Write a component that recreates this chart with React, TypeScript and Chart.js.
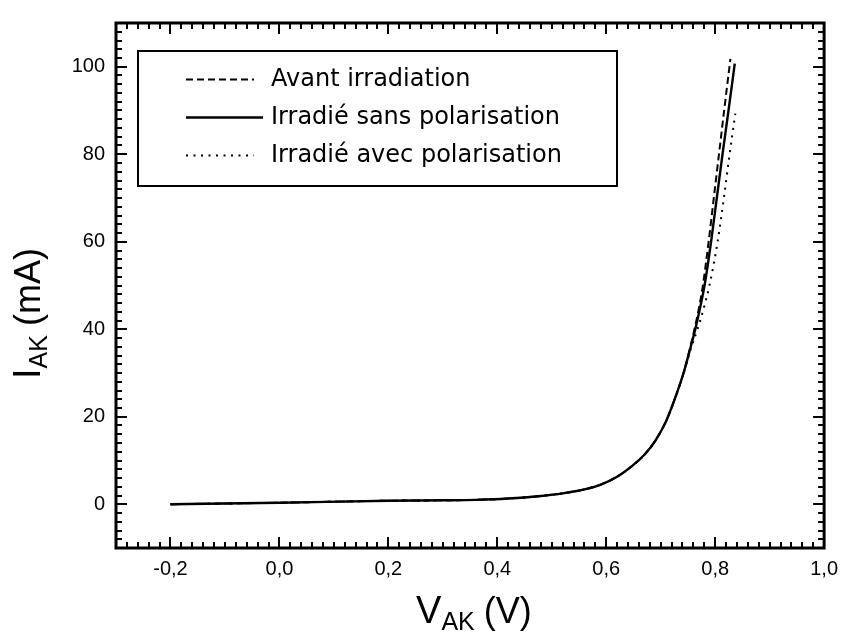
import React, { useEffect, useRef } from "react";
import { Chart, registerables } from "chart.js";

Chart.register(...registerables);

// ---- Data ----
const X_TICKS = [-0.2, 0.0, 0.2, 0.4, 0.6, 0.8, 1.0];
const Y_TICKS = [0, 20, 40, 60, 80, 100];

// common low-current part (all three curves overlap)
const V_COMMON = [-0.2, 0.0, 0.2, 0.3, 0.36, 0.42, 0.48, 0.52, 0.56, 0.59, 0.62, 0.645, 0.67, 0.69, 0.71, 0.73];
const I_COMMON = [0, 0.35, 0.8, 0.9, 1.0, 1.3, 1.9, 2.5, 3.4, 4.5, 6.3, 8.5, 11.3, 14.5, 19, 25.5];

// high-current tails
const V_AVANT = [0.742, 0.7525, 0.762, 0.7705, 0.7775, 0.788, 0.7975, 0.807, 0.8165, 0.828];
const I_AVANT = [30, 35, 40, 45, 50, 60, 70, 80, 90, 101.8];

const V_SANS = [0.742, 0.753, 0.7635, 0.7725, 0.7805, 0.7925, 0.803, 0.8135, 0.8245, 0.836];
const I_SANS = [30, 35, 40, 45, 50, 60, 70, 80, 90, 100.7];

const V_AVEC = [0.742, 0.754, 0.7675, 0.7795, 0.7895, 0.8045, 0.816, 0.8265, 0.837];
const I_AVEC = [30, 35, 40, 45, 50, 60, 70, 80, 89.3];

const LABELS = ["Avant irradiation", "Irradié sans polarisation", "Irradié avec polarisation"];

const FONT = "'Liberation Sans', Arial, Helvetica, sans-serif";
const LEGEND_FONT = "'DejaVu Sans', 'Liberation Sans', sans-serif";

function pts(v: number[], i: number[]) {
  return v.map((x, k) => ({ x, y: i[k] }));
}

const fmt = (v: number) => v.toFixed(1).replace(".", ",");

const decoPlugin = {
  id: "deco",
  beforeDraw(chart: any) {
    const ctx = chart.ctx;
    ctx.save();
    ctx.fillStyle = "#fff";
    ctx.fillRect(0, 0, chart.width, chart.height);
    ctx.restore();
  },
  afterDraw(chart: any) {
    const ctx: CanvasRenderingContext2D = chart.ctx;
    const a = chart.chartArea;
    const xs = chart.scales.x;
    const ys = chart.scales.y;
    ctx.save();
    ctx.strokeStyle = "#000";
    ctx.fillStyle = "#000";
    ctx.setLineDash([]);

    const seg = (x1: number, y1: number, x2: number, y2: number) => {
      ctx.beginPath();
      ctx.moveTo(x1, y1);
      ctx.lineTo(x2, y2);
      ctx.stroke();
    };

    // minor + major ticks, inward, on all four sides
    ctx.lineWidth = 2;
    for (let k = 0; k <= 65; k++) {
      const v = -0.3 + k * 0.02;
      const px = Math.round(xs.getPixelForValue(v));
      const r = (v + 0.2) / 0.2;
      const major = Math.abs(r - Math.round(r)) < 1e-6;
      const len = major ? 11 : 6;
      seg(px, a.bottom, px, a.bottom - len);
      seg(px, a.top, px, a.top + len);
    }
    for (let k = 0; k <= 60; k++) {
      const v = -10 + k * 2;
      const py = Math.round(ys.getPixelForValue(v));
      const major = v % 20 === 0;
      const len = major ? 11 : 6;
      seg(a.left, py, a.left + len, py);
      seg(a.right, py, a.right - len, py);
    }

    // frame
    ctx.lineWidth = 3;
    ctx.strokeRect(a.left, a.top, a.right - a.left, a.bottom - a.top);

    // legend box
    const lx = a.left + 22, ly = a.top + 28, lw = 479, lh = 135;
    ctx.lineWidth = 2;
    ctx.strokeRect(lx, ly, lw, lh);
    const rows = [79, 117, 155];
    const ds = chart.data.datasets;
    ctx.font = `24px ${LEGEND_FONT}`;
    ctx.textBaseline = "middle";
    ctx.textAlign = "left";
    for (let k = 0; k < 3; k++) {
      const d = ds[k];
      const y = rows[k] + 0.5;
      ctx.lineWidth = d.borderWidth;
      ctx.setLineDash(d.borderDash || []);
      seg(186, y, k === 1 ? 263 : 254, y);
      ctx.setLineDash([]);
      ctx.fillText(d.label, 271, rows[k] + 1);
    }

    // X title: V_AK (V)
    const cx = (a.left + a.right) / 2;
    ctx.textBaseline = "alphabetic";
    ctx.font = `38px ${FONT}`;
    let x = cx - 54;
    ctx.fillText("V", x, 623);
    x += ctx.measureText("V").width;
    ctx.font = `25px ${FONT}`;
    ctx.fillText("AK", x, 630);
    x += ctx.measureText("AK").width + 9;
    ctx.font = `36px ${FONT}`;
    ctx.fillText("(V)", x, 623);

    // Y title: I_AK (mA), rotated
    ctx.translate(40, 379);
    ctx.rotate(-Math.PI / 2);
    ctx.font = `38px ${FONT}`;
    let t = 0;
    ctx.fillText("I", t, 0);
    t += ctx.measureText("I").width;
    ctx.font = `25px ${FONT}`;
    ctx.fillText("AK", t, 7);
    t += ctx.measureText("AK").width + 9;
    ctx.font = `36px ${FONT}`;
    ctx.fillText("(mA)", t, 0);

    ctx.restore();
  },
};

export default function App() {
  const ref = useRef<HTMLCanvasElement | null>(null);

  useEffect(() => {
    if (!ref.current) return;
    const common = pts(V_COMMON, I_COMMON);
    const chart = new Chart(ref.current, {
      type: "scatter",
      data: {
        datasets: [
          {
            label: LABELS[0],
            data: [...common, ...pts(V_AVANT, I_AVANT)],
            showLine: true,
            borderColor: "#000",
            borderWidth: 2,
            borderDash: [7, 4],
            pointRadius: 0,
            cubicInterpolationMode: "monotone",
          },
          {
            label: LABELS[1],
            data: [...common, ...pts(V_SANS, I_SANS)],
            showLine: true,
            borderColor: "#000",
            borderWidth: 2.4,
            pointRadius: 0,
            cubicInterpolationMode: "monotone",
          },
          {
            label: LABELS[2],
            data: [...common, ...pts(V_AVEC, I_AVEC)],
            showLine: true,
            borderColor: "#000",
            borderWidth: 2,
            borderDash: [2, 5.5],
            pointRadius: 0,
            cubicInterpolationMode: "monotone",
          },
        ],
      },
      options: {
        animation: false,
        responsive: false,
        devicePixelRatio: 1,
        layout: { padding: { left: 0, right: 17, top: 22, bottom: 0 } },
        plugins: {
          legend: { display: false },
          tooltip: { enabled: false },
        },
        scales: {
          x: {
            type: "linear",
            min: -0.3,
            max: 1.0,
            grid: { display: false, drawTicks: false },
            border: { display: false },
            afterBuildTicks: (s: any) => {
              s.ticks = X_TICKS.map((value) => ({ value }));
            },
            afterFit: (s: any) => {
              s.height = 87;
            },
            ticks: {
              padding: 9,
              color: "#000",
              font: { family: FONT, size: 20 },
              maxRotation: 0,
              autoSkip: false,
              callback: (v: any) => fmt(Number(v)),
            },
          },
          y: {
            type: "linear",
            min: -10,
            max: 110,
            grid: { display: false, drawTicks: false },
            border: { display: false },
            afterBuildTicks: (s: any) => {
              s.ticks = Y_TICKS.map((value) => ({ value }));
            },
            afterFit: (s: any) => {
              s.width = 116;
            },
            ticks: {
              padding: 11,
              color: "#000",
              font: { family: FONT, size: 20 },
              autoSkip: false,
              callback: (v: any) => String(v),
            },
          },
        },
      },
      plugins: [decoPlugin],
    });
    return () => chart.destroy();
  }, []);

  return (
    <div style={{ position: "fixed", left: 0, top: 0, width: 847, height: 635, background: "#fff" }}>
      <canvas ref={ref} width={847} height={635} style={{ display: "block", width: 847, height: 635 }} />
    </div>
  );
}
